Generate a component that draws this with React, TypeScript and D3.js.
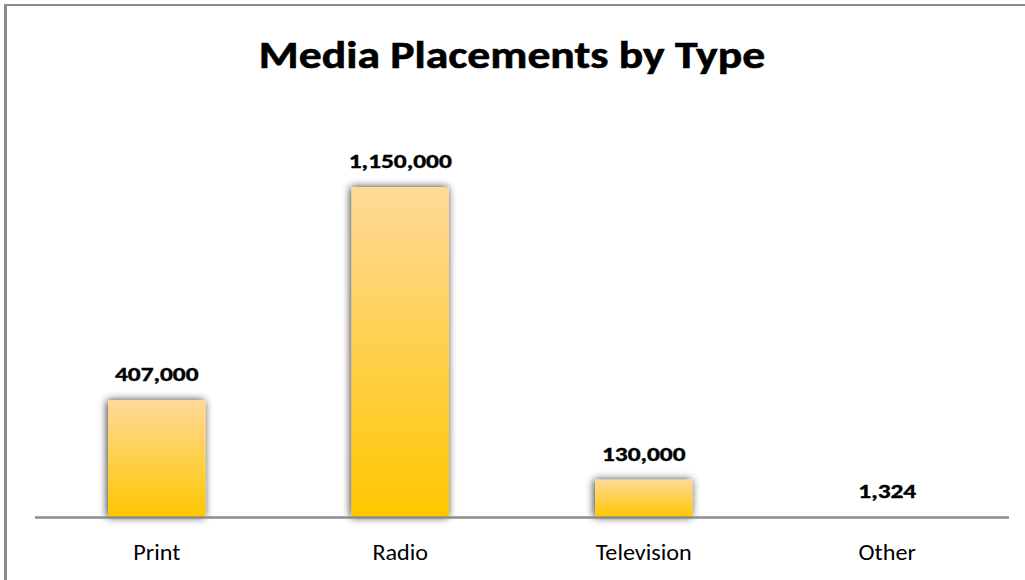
import React from "react";
import * as d3 from "d3";

const categories = ["Print", "Radio", "Television", "Other"];
const values = [407000, 1150000, 130000, 1324];
const title = "Media Placements by Type";

const W = 1025;
const H = 580;
const plotLeft = 35;
const plotRight = 1009;
const baseY = 517;
const FONT = "Carlito, Calibri, Lato, 'Open Sans', sans-serif";

function SText({
  x,
  y,
  sx,
  size,
  bold,
  stroke,
  children,
}: {
  x: number;
  y: number;
  sx: number;
  size: number;
  bold?: boolean;
  stroke?: number;
  children: React.ReactNode;
}) {
  return (
    <text
      transform={`translate(${x},${y}) scale(${sx},1)`}
      textAnchor="middle"
      fontFamily={FONT}
      fontWeight={bold ? "bold" : "normal"}
      fontSize={size}
      fill="#000"
      stroke={stroke ? "#000" : "none"}
      strokeWidth={stroke || 0}
    >
      {children}
    </text>
  );
}

export default function App() {
  const x = d3
    .scaleBand<string>()
    .domain(categories)
    .range([plotLeft, plotRight])
    .paddingInner(0.6)
    .paddingOuter(0.3);
  const y = d3.scaleLinear().domain([0, 1400000]).range([baseY, 115.3]);
  const fmt = d3.format(",");

  return (
    <svg
      width={W}
      height={H}
      style={{ position: "absolute", left: 0, top: 0, display: "block" }}
    >
      <defs>
        <linearGradient id="barGrad" x1="0" y1="0" x2="0" y2="1">
          <stop offset="0%" stopColor="#FFD998" />
          <stop offset="100%" stopColor="#FFC700" />
        </linearGradient>
        <filter id="shadow" x="-30%" y="-30%" width="160%" height="160%">
          <feGaussianBlur in="SourceAlpha" stdDeviation="4" />
          <feOffset dx="-1" dy="0" />
          <feComponentTransfer>
            <feFuncA type="linear" slope="0.8" />
          </feComponentTransfer>
          <feMerge>
            <feMergeNode />
            <feMergeNode in="SourceGraphic" />
          </feMerge>
        </filter>
      </defs>
      <rect x={0} y={0} width={W} height={H} fill="#ffffff" />
      <line x1={5.5} y1={4} x2={5.5} y2={H} stroke="#8c8c8c" strokeWidth={3} />
      <line x1={4} y1={5} x2={W} y2={5} stroke="#8c8c8c" strokeWidth={2} />

      <SText x={512} y={68} sx={1.17} size={39} bold stroke={0.6}>
        {title}
      </SText>

      {categories.map((c, i) => {
        const v = values[i];
        const top = y(v);
        const h = baseY - top;
        const cx = (x(c) as number) + x.bandwidth() / 2;
        return (
          <g key={c}>
            {h > 0.5 && (
              <rect
                x={x(c)}
                y={top}
                width={x.bandwidth()}
                height={h}
                fill="url(#barGrad)"
                filter="url(#shadow)"
              />
            )}
            <SText x={cx} y={top - 19} sx={1.3} size={19.5} bold stroke={0.4}>
              {fmt(v)}
            </SText>
            <SText x={cx} y={560} sx={1.1} size={22}>
              {c}
            </SText>
          </g>
        );
      })}

      <line
        x1={plotLeft}
        y1={baseY + 0.5}
        x2={plotRight}
        y2={baseY + 0.5}
        stroke="#8c8c8c"
        strokeWidth={2.5}
      />
    </svg>
  );
}
